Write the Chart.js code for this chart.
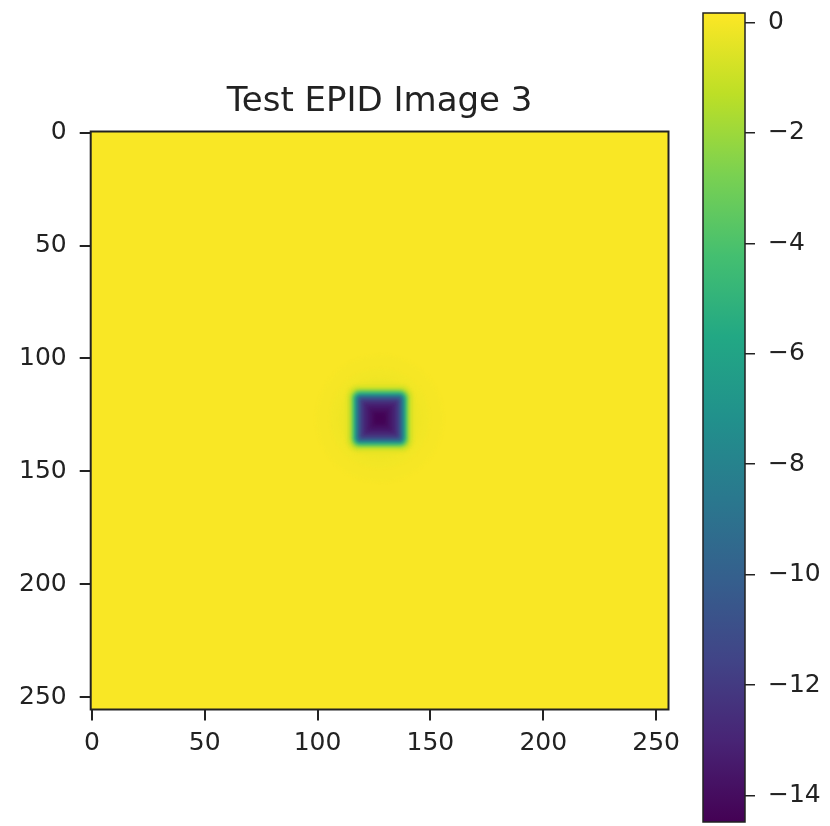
<!DOCTYPE html>
<html>
<head>
<meta charset="utf-8">
<script src="https://cdn.jsdelivr.net/npm/chart.js@4.4.0/dist/chart.umd.min.js"></script>
<style>
  html, body { margin: 0; padding: 0; background: #fff; }
  #wrap { position: relative; width: 830px; height: 826px; }
  #main { position: absolute; left: 0; top: 0; }
  #bar { position: absolute; left: 690px; top: 0; }
</style>
</head>
<body>
<div id="wrap">
  <canvas id="main" width="690" height="826"></canvas>
  <canvas id="bar" width="140" height="826"></canvas>
</div>
<script>
// image data: flat background with a square dip near the centre,
// stored as nested rings (half-width in image pixels -> value)
const imageSize = 256;
const axisTicks = [0, 50, 100, 150, 200, 250];
const backgroundValue = 0.08;
const spotCenter = [127.6, 126.6]; // x, y (image pixels)
const ringHalfWidth = [28, 22, 18, 15, 14, 13, 12, 11, 10, 9, 8, 7, 6, 5, 4, 3, 2, 1];
const ringValue = [0.0, -0.08, -0.2, -0.45, -0.9, -2.2, -4.4, -7.2, -9.6, -11.3, -12.3, -12.9, -13.3, -13.6, -13.9, -14.2, -14.4, -14.45];
const colorbarTicks = [0, -2, -4, -6, -8, -10, -12, -14];
const valueMin = -14.48;
const valueMax = 0.17;

const viridisStops = ["#440154", "#482475", "#414487", "#355f8d", "#2a788e", "#21918c",
                      "#22a884", "#44bf70", "#7ad151", "#bddf26", "#fde725"];

function hexRgb(h) {
    return [parseInt(h.slice(1, 3), 16), parseInt(h.slice(3, 5), 16), parseInt(h.slice(5, 7), 16)];
}

function viridis(v) {
    let t = (v - valueMin) / (valueMax - valueMin);
    t = Math.min(1, Math.max(0, t));
    const f = t * 10;
    const i = Math.min(9, Math.floor(f));
    const u = f - i;
    const a = hexRgb(viridisStops[i]), b = hexRgb(viridisStops[i + 1]);
    const c = a.map((x, k) => Math.round(x + (b[k] - x) * u));
    return "rgb(" + c.join(",") + ")";
}

const tickFont = { family: "DejaVu Sans", size: 25 };
const textColor = "#222";

const heatmapPlugin = {
    id: "heatmap",
    beforeDatasetsDraw(chart) {
        const { ctx, scales: { x, y } } = chart;
        const left = x.getPixelForValue(-0.5), right = x.getPixelForValue(imageSize - 0.5);
        const top = y.getPixelForValue(-0.5), bottom = y.getPixelForValue(imageSize - 0.5);
        const unit = (right - left) / imageSize;
        ctx.save();
        ctx.beginPath();
        ctx.rect(left, top, right - left, bottom - top);
        ctx.clip();
        ctx.fillStyle = viridis(backgroundValue);
        ctx.fillRect(left, top, right - left, bottom - top);
        ctx.filter = "blur(1.5px)";
        ringHalfWidth.forEach((r, i) => {
            const x0 = x.getPixelForValue(spotCenter[0] - r);
            const x1 = x.getPixelForValue(spotCenter[0] + r);
            const y0 = y.getPixelForValue(spotCenter[1] - r);
            const y1 = y.getPixelForValue(spotCenter[1] + r);
            const w = x1 - x0, h = y1 - y0;
            const corner = r >= 16 ? Math.min(w, h) / 2 : Math.max(0, (r - 8) * 0.8) * unit;
            ctx.fillStyle = viridis(ringValue[i]);
            ctx.beginPath();
            ctx.roundRect(x0, y0, w, h, corner);
            ctx.fill();
        });
        ctx.restore();
    },
    afterDatasetsDraw(chart) {
        const { ctx, scales: { x, y } } = chart;
        const left = x.getPixelForValue(-0.5), right = x.getPixelForValue(imageSize - 0.5);
        const top = y.getPixelForValue(-0.5), bottom = y.getPixelForValue(imageSize - 0.5);
        ctx.save();
        ctx.strokeStyle = "#222";
        ctx.lineWidth = 2;
        ctx.strokeRect(left, top, right - left, bottom - top);
        ctx.restore();
    }
};

new Chart(document.getElementById("main").getContext("2d"), {
    type: "scatter",
    data: { datasets: [{ data: [] }] },
    options: {
        responsive: false,
        animation: false,
        layout: { padding: { left: 0, right: 21.5, top: 0, bottom: 0 } },
        plugins: {
            legend: { display: false },
            tooltip: { enabled: false },
            title: {
                display: true,
                text: "Test EPID Image 3",
                fullSize: false,
                color: textColor,
                font: { family: "DejaVu Sans", size: 34, weight: "normal" },
                padding: { top: 81.5, bottom: 9.2 },
            },
        },
        scales: {
            x: {
                type: "linear",
                min: -0.5,
                max: imageSize - 0.5,
                afterBuildTicks: (s) => { s.ticks = axisTicks.map((v) => ({ value: v })); },
                afterFit: (s) => { s.height = 116.5; s.paddingLeft = 0; s.paddingRight = 0; },
                border: { display: false },
                grid: { drawOnChartArea: false, drawTicks: true, tickLength: 11, color: "#222", lineWidth: 2 },
                ticks: { font: tickFont, color: textColor, padding: 8, maxRotation: 0, autoSkip: false },
            },
            y: {
                type: "linear",
                reverse: true,
                min: -0.5,
                max: imageSize - 0.5,
                afterBuildTicks: (s) => { s.ticks = axisTicks.map((v) => ({ value: v })); },
                afterFit: (s) => { s.width = 90.7; s.paddingTop = 0; s.paddingBottom = 0; },
                border: { display: false },
                grid: { drawOnChartArea: false, drawTicks: true, tickLength: 11, color: "#222", lineWidth: 2 },
                ticks: { font: tickFont, color: textColor, padding: 13, autoSkip: false },
            },
        },
    },
    plugins: [heatmapPlugin],
});

const colorbarPlugin = {
    id: "colorbar",
    beforeDatasetsDraw(chart) {
        const { ctx, chartArea, scales: { y } } = chart;
        const yBottom = y.getPixelForValue(valueMin), yTop = y.getPixelForValue(valueMax);
        const grad = ctx.createLinearGradient(0, yBottom, 0, yTop);
        viridisStops.forEach((c, k) => grad.addColorStop(k / 10, c));
        ctx.save();
        ctx.fillStyle = grad;
        ctx.fillRect(chartArea.left, yTop, chartArea.right - chartArea.left, yBottom - yTop);
        ctx.strokeStyle = "#222";
        ctx.lineWidth = 1.5;
        ctx.strokeRect(chartArea.left, yTop, chartArea.right - chartArea.left, yBottom - yTop);
        ctx.restore();
    }
};

new Chart(document.getElementById("bar").getContext("2d"), {
    type: "scatter",
    data: { datasets: [{ data: [] }] },
    options: {
        responsive: false,
        animation: false,
        layout: { padding: { left: 13, right: 0, top: 13, bottom: 4 } },
        plugins: { legend: { display: false }, tooltip: { enabled: false } },
        scales: {
            x: { display: false },
            y: {
                type: "linear",
                position: "right",
                min: valueMin,
                max: valueMax,
                afterBuildTicks: (s) => { s.ticks = colorbarTicks.map((v) => ({ value: v })); },
                afterFit: (s) => { s.width = 85; s.paddingTop = 0; s.paddingBottom = 0; },
                border: { display: false },
                grid: { drawOnChartArea: false, drawTicks: true, tickLength: 10, color: "#222", lineWidth: 1.5 },
                ticks: {
                    font: tickFont,
                    color: textColor,
                    padding: 13,
                    autoSkip: false,
                    callback: (v) => (v < 0 ? "\u2212" + Math.abs(v) : String(v)),
                },
            },
        },
    },
    plugins: [colorbarPlugin],
});
</script>
</body>
</html>
